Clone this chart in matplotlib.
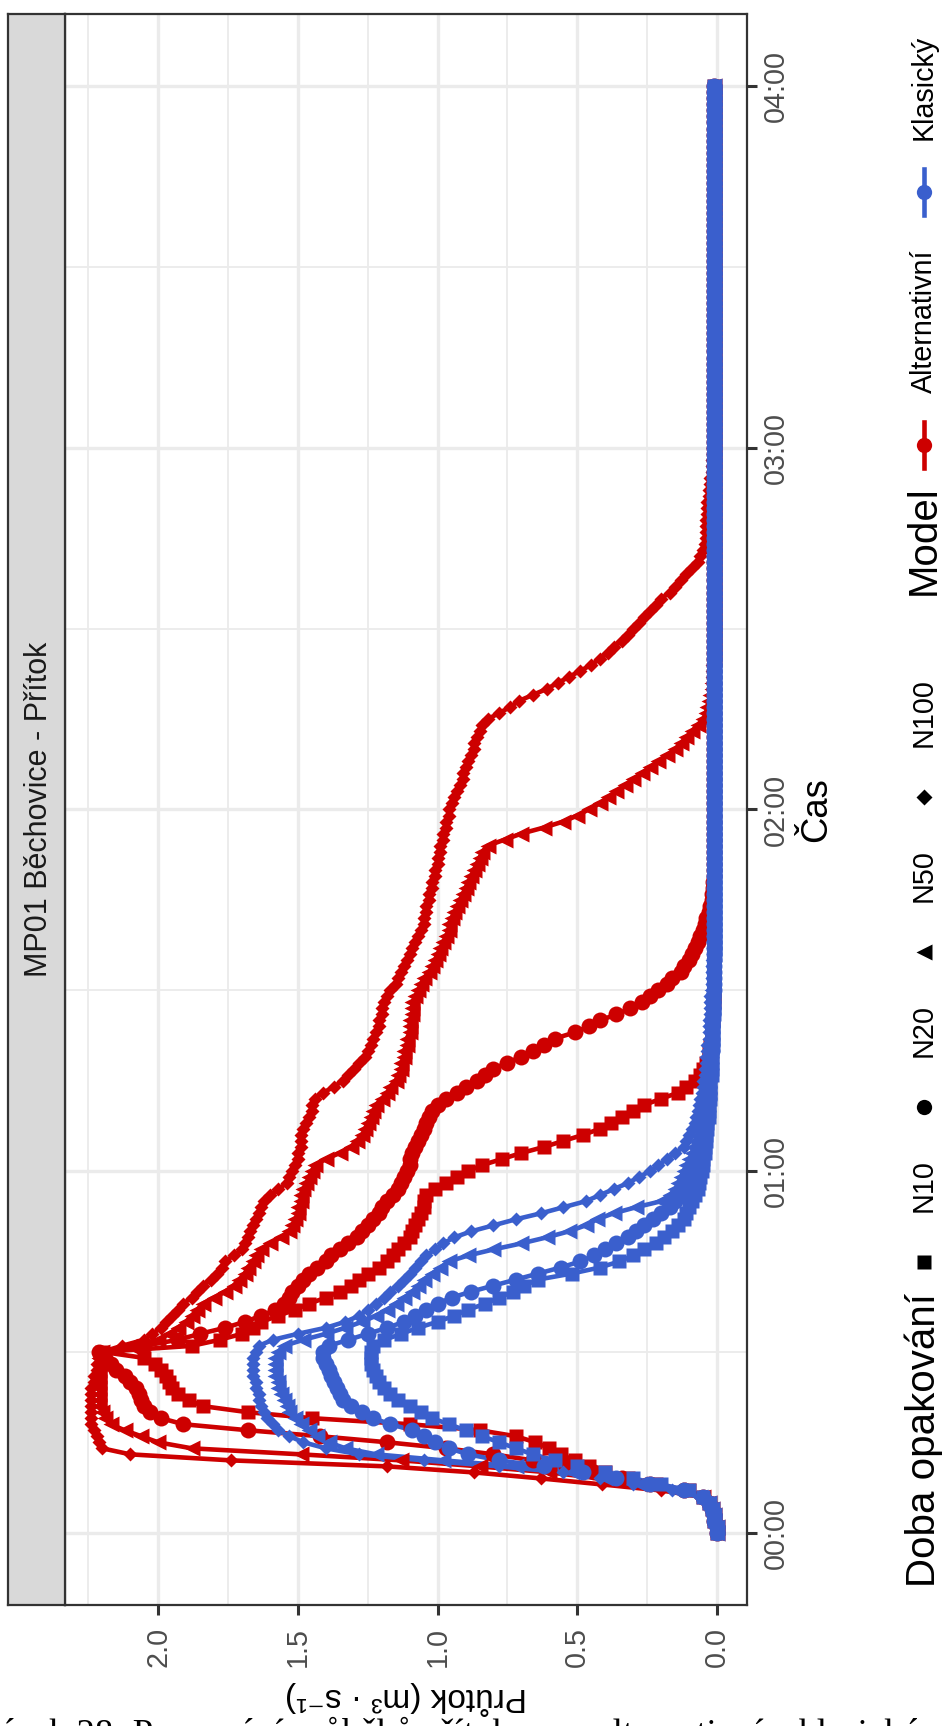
import matplotlib.pyplot as plt
from matplotlib.ticker import FixedLocator

plt.rcParams['font.family'] = ['Liberation Sans', 'DejaVu Sans']

# time axis: one value per minute, 00:00 .. 04:00
minutes = list(range(0, 241))
hour_ticks = [0, 60, 120, 180, 240]
hour_labels = ['00:00', '01:00', '02:00', '03:00', '04:00']
half_hours = [30, 90, 150, 210]
flow_ticks = [0.0, 0.5, 1.0, 1.5, 2.0]
flow_labels = ['0.0', '0.5', '1.0', '1.5', '2.0']
flow_minor = [0.25, 0.75, 1.25, 1.75, 2.25]

periods = ['N10', 'N20', 'N50', 'N100']
models = ['Alternativní', 'Klasický']

# flow (m3/s) per minute, model "Alternativní"
alt_n10 = [
    0.00, 0.00, 0.01, 0.01, 0.02, 0.03, 0.05, 0.10, 0.22, 0.32,
    0.40, 0.46, 0.51, 0.56, 0.60, 0.65, 0.72, 0.85, 1.10, 1.45,
    1.68, 1.84, 1.89, 1.93, 1.95, 1.96, 1.97, 1.99, 2.01, 2.05,
    2.20, 1.88, 1.78, 1.70, 1.66, 1.63, 1.57, 1.51, 1.46, 1.40,
    1.35, 1.31, 1.28, 1.25, 1.21, 1.18, 1.16, 1.14, 1.12, 1.10,
    1.09, 1.08, 1.07, 1.06, 1.05, 1.05, 1.04, 1.01, 0.97, 0.93,
    0.89, 0.84, 0.77, 0.70, 0.62, 0.55, 0.48, 0.42, 0.38, 0.34,
    0.30, 0.26, 0.20, 0.14, 0.11, 0.08, 0.06, 0.05, 0.04, 0.03,
    0.03, 0.025, 0.02, 0.02, 0.02, 0.015, 0.015, 0.015, 0.01, 0.01,
] + [0.01] * 151

alt_n20 = [
    0.00, 0.00, 0.01, 0.01, 0.02, 0.03, 0.05, 0.12, 0.24, 0.34,
    0.44, 0.54, 0.66, 0.80, 0.97, 1.18, 1.42, 1.68, 1.91, 1.99,
    2.03, 2.05, 2.06, 2.07, 2.08, 2.10, 2.12, 2.15, 2.17, 2.19,
    2.21, 2.05, 1.93, 1.85, 1.76, 1.69, 1.63, 1.58, 1.55, 1.53,
    1.52, 1.50, 1.48, 1.46, 1.43, 1.40, 1.38, 1.35, 1.32, 1.29,
    1.27, 1.25, 1.23, 1.21, 1.20, 1.18, 1.16, 1.14, 1.13, 1.12,
    1.11, 1.10, 1.10, 1.09, 1.08, 1.07, 1.06, 1.05, 1.04, 1.03,
    1.02, 1.00, 0.97, 0.93, 0.90, 0.86, 0.83, 0.80, 0.75, 0.70,
    0.66, 0.62, 0.58, 0.51, 0.46, 0.42, 0.36, 0.31, 0.27, 0.24,
    0.21, 0.18, 0.16, 0.13, 0.12, 0.10, 0.09, 0.08, 0.07, 0.06,
    0.05, 0.045, 0.04, 0.03, 0.025, 0.02, 0.02, 0.015, 0.015, 0.01,
] + [0.01] * 131

alt_n50 = [
    0.00, 0.00, 0.01, 0.01, 0.02, 0.03, 0.05, 0.14, 0.28, 0.42,
    0.60, 0.85, 1.13, 1.49, 1.88, 2.00, 2.06, 2.12, 2.17, 2.19,
    2.20, 2.21, 2.21, 2.21, 2.21, 2.21, 2.21, 2.21, 2.21, 2.21,
    2.20, 2.10, 2.00, 1.96, 1.93, 1.90, 1.88, 1.86, 1.84, 1.80,
    1.76, 1.73, 1.71, 1.69, 1.68, 1.66, 1.65, 1.63, 1.60, 1.56,
    1.53, 1.52, 1.51, 1.50, 1.50, 1.49, 1.49, 1.48, 1.47, 1.46,
    1.45, 1.44, 1.40, 1.35, 1.31, 1.29, 1.27, 1.26, 1.25, 1.24,
    1.23, 1.22, 1.20, 1.18, 1.17, 1.15, 1.14, 1.13, 1.13, 1.12,
    1.12, 1.11, 1.11, 1.10, 1.10, 1.10, 1.09, 1.09, 1.09, 1.08,
    1.07, 1.06, 1.05, 1.03, 1.02, 1.01, 1.00, 0.99, 0.98, 0.97,
    0.96, 0.96, 0.95, 0.94, 0.93, 0.92, 0.91, 0.90, 0.89, 0.88,
    0.87, 0.86, 0.85, 0.84, 0.82, 0.76, 0.70, 0.62, 0.55, 0.50,
    0.46, 0.42, 0.39, 0.36, 0.33, 0.30, 0.27, 0.24, 0.21, 0.18,
    0.15, 0.13, 0.11, 0.09, 0.07, 0.05, 0.04, 0.035, 0.03, 0.025,
    0.02, 0.02, 0.015, 0.015, 0.015, 0.01, 0.01, 0.01, 0.01, 0.01,
] + [0.01] * 91

alt_n100 = [
    0.00, 0.00, 0.01, 0.01, 0.02, 0.03, 0.06, 0.20, 0.41, 0.63,
    0.87, 1.18, 1.74, 2.10, 2.20, 2.21, 2.22, 2.23, 2.24, 2.24,
    2.24, 2.24, 2.24, 2.24, 2.24, 2.23, 2.23, 2.22, 2.22, 2.21,
    2.20, 2.13, 2.05, 2.02, 1.99, 1.97, 1.95, 1.93, 1.91, 1.88,
    1.86, 1.84, 1.81, 1.79, 1.77, 1.76, 1.73, 1.70, 1.69, 1.68,
    1.67, 1.66, 1.65, 1.64, 1.63, 1.62, 1.60, 1.57, 1.54, 1.53,
    1.52, 1.51, 1.50, 1.50, 1.49, 1.49, 1.49, 1.48, 1.47, 1.46,
    1.45, 1.45, 1.44, 1.41, 1.37, 1.34, 1.32, 1.30, 1.28, 1.26,
    1.25, 1.24, 1.23, 1.22, 1.21, 1.21, 1.20, 1.20, 1.19, 1.18,
    1.17, 1.15, 1.14, 1.13, 1.12, 1.11, 1.10, 1.09, 1.08, 1.07,
    1.06, 1.05, 1.05, 1.04, 1.04, 1.03, 1.03, 1.02, 1.02, 1.01,
    1.01, 1.00, 1.00, 0.99, 0.99, 0.98, 0.98, 0.97, 0.97, 0.96,
    0.96, 0.95, 0.94, 0.93, 0.92, 0.91, 0.91, 0.90, 0.89, 0.88,
    0.87, 0.87, 0.86, 0.85, 0.84, 0.82, 0.78, 0.74, 0.71, 0.66,
    0.61, 0.57, 0.53, 0.49, 0.45, 0.42, 0.39, 0.37, 0.34, 0.32,
    0.30, 0.28, 0.26, 0.24, 0.22, 0.20, 0.17, 0.15, 0.13, 0.11,
    0.09, 0.07, 0.06, 0.05, 0.045, 0.04, 0.04, 0.04, 0.04, 0.035,
    0.035, 0.035, 0.03, 0.03, 0.025, 0.025, 0.02, 0.02, 0.02, 0.015,
    0.015,
] + [0.01] * 60

# flow (m3/s) per minute, model "Klasický"
kla_n10 = [
    0.00, 0.00, 0.01, 0.01, 0.02, 0.03, 0.05, 0.10, 0.20, 0.30,
    0.40, 0.50, 0.58, 0.66, 0.72, 0.78, 0.84, 0.90, 0.96, 1.02,
    1.06, 1.10, 1.14, 1.17, 1.19, 1.21, 1.22, 1.23, 1.24, 1.24,
    1.24, 1.23, 1.19, 1.13, 1.07, 1.00, 0.94, 0.89, 0.83, 0.78,
    0.73, 0.69, 0.64, 0.52, 0.42, 0.35, 0.30, 0.26, 0.22, 0.19,
    0.16, 0.14, 0.12, 0.11, 0.10, 0.09, 0.08, 0.07, 0.065, 0.06,
    0.055, 0.05, 0.05, 0.045, 0.045, 0.04, 0.04, 0.035, 0.035, 0.03,
    0.03, 0.03, 0.025, 0.025, 0.025, 0.025, 0.02, 0.02, 0.02, 0.02,
    0.02, 0.015, 0.015, 0.015, 0.015, 0.015, 0.01, 0.01, 0.01, 0.01,
] + [0.01] * 151

kla_n20 = [
    0.00, 0.00, 0.01, 0.01, 0.02, 0.03, 0.05, 0.12, 0.24, 0.36,
    0.48, 0.62, 0.78, 0.89, 0.96, 1.01, 1.05, 1.09, 1.17, 1.23,
    1.27, 1.31, 1.34, 1.35, 1.36, 1.37, 1.38, 1.39, 1.40, 1.41,
    1.41, 1.39, 1.32, 1.25, 1.18, 1.12, 1.08, 1.04, 1.00, 0.95,
    0.88, 0.80, 0.72, 0.64, 0.56, 0.49, 0.44, 0.40, 0.36, 0.32,
    0.29, 0.26, 0.23, 0.20, 0.17, 0.15, 0.13, 0.11, 0.10, 0.09,
    0.08, 0.07, 0.065, 0.06, 0.055, 0.05, 0.05, 0.045, 0.04, 0.04,
    0.035, 0.035, 0.03, 0.03, 0.03, 0.03, 0.025, 0.025, 0.025, 0.025,
    0.02, 0.02, 0.02, 0.02, 0.02, 0.02, 0.015, 0.015, 0.015, 0.015,
] + [0.01] * 151

kla_n50 = [
    0.00, 0.00, 0.01, 0.01, 0.02, 0.03, 0.06, 0.15, 0.28, 0.40,
    0.52, 0.72, 0.98, 1.22, 1.33, 1.39, 1.43, 1.46, 1.49, 1.51,
    1.53, 1.54, 1.55, 1.56, 1.57, 1.57, 1.58, 1.58, 1.58, 1.58,
    1.57, 1.55, 1.48, 1.40, 1.33, 1.27, 1.22, 1.18, 1.15, 1.12,
    1.09, 1.07, 1.05, 1.02, 0.99, 0.96, 0.89, 0.80, 0.70, 0.61,
    0.53, 0.47, 0.43, 0.37, 0.29, 0.20, 0.17, 0.15, 0.14, 0.13,
    0.12, 0.11, 0.10, 0.09, 0.085, 0.08, 0.07, 0.065, 0.06, 0.055,
    0.05, 0.05, 0.045, 0.045, 0.04, 0.04, 0.035, 0.035, 0.03, 0.03,
    0.03, 0.025, 0.025, 0.025, 0.025, 0.02, 0.02, 0.02, 0.02, 0.02,
    0.02, 0.015, 0.015, 0.015, 0.015, 0.015, 0.01, 0.01, 0.01, 0.01,
] + [0.01] * 141

kla_n100 = [
    0.00, 0.00, 0.01, 0.01, 0.02, 0.03, 0.06, 0.16, 0.30, 0.42,
    0.55, 0.78, 1.05, 1.28, 1.40, 1.48, 1.53, 1.57, 1.59, 1.61,
    1.62, 1.63, 1.64, 1.64, 1.65, 1.65, 1.66, 1.66, 1.66, 1.66,
    1.65, 1.64, 1.59, 1.50, 1.40, 1.33, 1.28, 1.25, 1.22, 1.19,
    1.17, 1.14, 1.12, 1.10, 1.08, 1.06, 1.04, 1.01, 0.98, 0.94,
    0.88, 0.80, 0.72, 0.63, 0.55, 0.47, 0.42, 0.37, 0.32, 0.28,
    0.24, 0.21, 0.18, 0.15, 0.12, 0.11, 0.10, 0.09, 0.08, 0.075,
    0.07, 0.065, 0.06, 0.055, 0.05, 0.05, 0.045, 0.045, 0.04, 0.04,
    0.035, 0.035, 0.03, 0.03, 0.03, 0.03, 0.025, 0.025, 0.025, 0.025,
    0.02, 0.02, 0.02, 0.02, 0.02, 0.015, 0.015, 0.015, 0.015, 0.015,
] + [0.01] * 141

series = {
    ('Alternativní', 'N10'): alt_n10,
    ('Alternativní', 'N20'): alt_n20,
    ('Alternativní', 'N50'): alt_n50,
    ('Alternativní', 'N100'): alt_n100,
    ('Klasický', 'N10'): kla_n10,
    ('Klasický', 'N20'): kla_n20,
    ('Klasický', 'N50'): kla_n50,
    ('Klasický', 'N100'): kla_n100,
}

colors = {'Alternativní': '#CD0000', 'Klasický': '#3A5FCD'}
# page is rotated: the up-triangle of the original points left here
shapes = {'N10': 's', 'N20': 'o', 'N50': '<', 'N100': 'D'}
msize = {'N10': 10.5, 'N20': 11.5, 'N50': 12, 'N100': 7.5}

W, H = 947, 1726
fig = plt.figure(figsize=(W / 100, H / 100), dpi=100)


def box(x0, y0, x1, y1):
    return [x0 / W, 1 - y1 / H, (x1 - x0) / W, (y1 - y0) / H]


ax = fig.add_axes(box(65, 14, 747, 1605))
strip = fig.add_axes(box(8, 14, 65, 1605))

# lines first, then points (like geom_line + geom_point)
for (model, period), values in series.items():
    ax.plot(values, minutes[:len(values)], color=colors[model], lw=3.3,
            zorder=2, solid_joinstyle='round')
for (model, period), values in series.items():
    ax.plot(values, minutes[:len(values)], ls='none', marker=shapes[period],
            ms=msize[period], mfc=colors[model], mec='none', zorder=3)

ax.set_xlim(2.333, -0.107)
ax.set_ylim(-12, 252)
ax.xaxis.set_major_locator(FixedLocator(flow_ticks))
ax.xaxis.set_minor_locator(FixedLocator(flow_minor))
ax.yaxis.set_major_locator(FixedLocator(hour_ticks))
ax.yaxis.set_minor_locator(FixedLocator(half_hours))
ax.set_xticklabels(flow_labels)
ax.set_yticklabels(hour_labels)
ax.yaxis.tick_right()
ax.grid(which='major', color='#EBEBEB', lw=2.4)
ax.grid(which='minor', color='#EBEBEB', lw=1.3)
ax.set_axisbelow(True)
ax.tick_params(which='major', length=7.5, width=2.2, color='#333333',
               labelcolor='#4D4D4D', labelsize=20.7)
ax.tick_params(which='minor', length=0)
ax.tick_params(axis='x', pad=8, labelrotation=90)
ax.tick_params(axis='y', pad=3, labelrotation=90)
for lab in ax.get_yticklabels():
    lab.set_va('center')
    lab.set_ha('left')
for s in ax.spines.values():
    s.set_color('#333333')
    s.set_linewidth(1.6)

ax.set_ylabel('Čas', fontsize=26.3, rotation=90)
ax.yaxis.set_label_position('right')
ax.yaxis.set_label_coords((817 - 65) / 682, 0.5)
ax.yaxis.label.set_ha('center')
ax.yaxis.label.set_va('center')

ax.set_xlabel('Průtok (m³ · s⁻¹)', fontsize=24, rotation=180)
ax.xaxis.set_label_coords(0.5, -(1698 - 1605) / 1591)
ax.xaxis.label.set_va('center')

# facet strip (on the left because the page is turned)
strip.set_facecolor('#D9D9D9')
strip.set_xticks([])
strip.set_yticks([])
for s in strip.spines.values():
    s.set_color('#333333')
    s.set_linewidth(1.6)
strip.text(0.55, 0.5, 'MP01 Běchovice - Přítok', rotation=90, ha='center',
           va='center', fontsize=22, color='#1A1A1A', transform=strip.transAxes)

# legends, drawn by hand in pixel space (rotated with the page)
leg = fig.add_axes([0, 0, 1, 1])
leg.set_xlim(0, W)
leg.set_ylim(H, 0)
leg.axis('off')
lx = 924
leg.text(lx, 1587, 'Doba opakování', rotation=90, ha='center', va='bottom',
         fontsize=29)
key_y = {'N10': 1262, 'N20': 1107, 'N50': 952, 'N100': 797}
key_ms = {'N10': 10.5, 'N20': 11, 'N50': 11.5, 'N100': 8}
for p in periods:
    leg.plot([lx], [key_y[p]], marker=shapes[p], ms=key_ms[p], color='black',
             mec='none', ls='none')
    leg.text(lx, key_y[p] - 50, p, rotation=90, ha='center', va='bottom',
             fontsize=20.7)

leg.text(lx, 595, 'Model', rotation=90, ha='center', va='bottom', fontsize=29)
model_y = {'Alternativní': 445, 'Klasický': 192}
for m in models:
    yc = model_y[m]
    leg.plot([lx, lx], [yc - 23, yc + 23], color=colors[m], lw=3.3)
    leg.plot([lx], [yc], marker='o', ms=11, color=colors[m], mec='none')
    leg.text(lx, yc - 52, m, rotation=90, ha='center', va='bottom',
             fontsize=20.7)

# caption of the page, mostly cut off at the bottom edge
fig.text(-57 / W, 1 - 1745 / H,
         'Obrázek 28: Porovnání průběhů přítoku pro alternativní a klasický model',
         fontsize=26.5, family='Liberation Serif', ha='left', va='baseline')

fig.savefig('out.png', dpi=100)
